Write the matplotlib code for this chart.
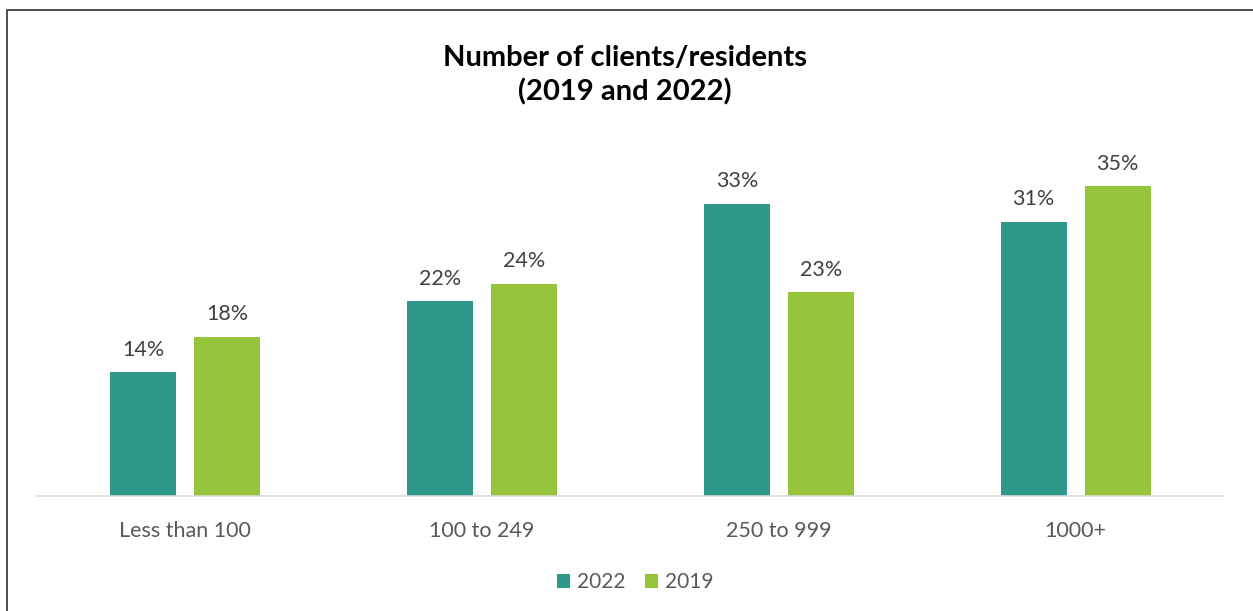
import matplotlib.pyplot as plt
import matplotlib.patches as mpatches
import numpy as np

categories = ['Less than 100', '100 to 249', '250 to 999', '1000+']
share_2022 = [14, 22, 33, 31]
share_2019 = [18, 24, 23, 35]

TEAL = '#2E998B'
GREEN = '#96C43A'
GREY = '#595959'

plt.rcParams['font.family'] = ['Lato', 'DejaVu Sans']


def main():
    fig = plt.figure(figsize=(12.53, 6.11), dpi=100)
    ax = fig.add_axes([0.0295, 0.1882, 0.9474, 0.5794])

    x = np.arange(len(categories))
    width = 0.222
    offset = 0.1414

    bars_22 = ax.bar(x - offset, share_2022, width, color=TEAL, label='2022')
    bars_19 = ax.bar(x + offset, share_2019, width, color=GREEN, label='2019')

    for bars in (bars_22, bars_19):
        for b in bars:
            ax.annotate(f'{b.get_height():.0f}%',
                        (b.get_x() + b.get_width() / 2, b.get_height()),
                        xytext=(0, 9), textcoords='offset points',
                        ha='center', va='bottom', fontsize=15.5, color='#404040')

    ax.set_xlim(-0.5, len(categories) - 0.5)
    ax.set_ylim(0, 40)
    ax.set_xticks(x)
    ax.set_xticklabels(categories, fontsize=15.5, color=GREY)
    ax.tick_params(axis='x', length=0, pad=18)
    ax.set_yticks([])
    for side in ('top', 'right', 'left'):
        ax.spines[side].set_visible(False)
    ax.spines['bottom'].set_color('#D9D9D9')
    ax.spines['bottom'].set_linewidth(1.2)

    fig.text(0.499, 0.877, 'Number of clients/residents\n(2019 and 2022)',
             ha='center', va='center', fontsize=21, fontweight='bold',
             color='black', linespacing=1.35)

    fig.legend(handles=[bars_22, bars_19], loc='center', ncol=2,
               bbox_to_anchor=(0.507, 0.047), frameon=False, fontsize=15,
               handlelength=0.65, handleheight=0.65, handletextpad=0.35,
               columnspacing=0.9, labelcolor=GREY)

    # chart frame, running past the right and bottom edges
    frame = mpatches.Rectangle((7 / 1253, -0.05), 1.1, 1 - 10 / 611 + 0.05,
                               transform=fig.transFigure, fill=False,
                               edgecolor='#4D4D4D', linewidth=1.4)
    fig.patches.append(frame)

    fig.savefig('out.png', dpi=100)


if __name__ == "__main__":
    main()
